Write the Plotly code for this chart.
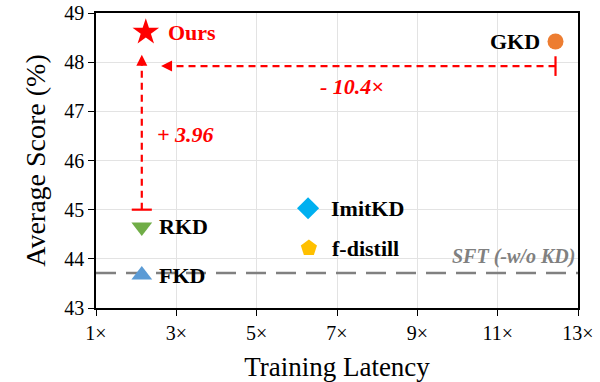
import plotly.graph_objects as go

# Method results: training latency (relative) vs. average score (%)
methods = ["Ours", "GKD", "RKD", "FKD", "ImitKD", "f-distill"]
latency = [2.24, 12.44, 2.14, 2.14, 6.28, 6.30]
score = [48.61, 48.42, 44.65, 43.67, 45.03, 44.22]
sft_score = 43.71
speedup_label = "- 10.4×"
gain_label = "+ 3.96"

x_ticks = [1, 3, 5, 7, 9, 11, 13]
x_tick_text = [f"{v}×" for v in x_ticks]
y_ticks = [43, 44, 45, 46, 47, 48, 49]

FONT = "Liberation Serif"
RED = "#FF0000"

styles = {
    "Ours": dict(symbol="star", color=RED, size=20, tcolor=RED, side="right", shift=20),
    "GKD": dict(symbol="circle", color="#ED7D31", size=16, tcolor="black", side="left", shift=-14),
    "RKD": dict(symbol="triangle-down", color="#70AD47", size=18, tcolor="black", side="right", shift=15),
    "FKD": dict(symbol="triangle-up", color="#5B9BD5", size=18, tcolor="black", side="right", shift=15),
    "ImitKD": dict(symbol="diamond", color="#00B0F0", size=17, tcolor="black", side="right", shift=21),
    "f-distill": dict(symbol="pentagon", color="#FFC000", size=17, tcolor="black", side="right", shift=21),
}

fig = go.Figure()

# SFT baseline
fig.add_trace(go.Scatter(
    x=[x_ticks[0], x_ticks[-1]], y=[sft_score, sft_score], mode="lines",
    line=dict(color="#808080", width=2.5, dash="20px,10px"),
    hoverinfo="skip", showlegend=False, cliponaxis=False,
))

gkd_x = latency[1]
rkd_x = latency[2]

# Horizontal speed-up arrow: from GKD latency back to ours
h_y = 47.92
h_tip = 2.62
fig.add_trace(go.Scatter(
    x=[gkd_x, h_tip + 0.12], y=[h_y, h_y], mode="lines",
    line=dict(color=RED, width=2.2, dash="7px,5px"),
    hoverinfo="skip", showlegend=False,
))
fig.add_trace(go.Scatter(
    x=[gkd_x, gkd_x], y=[h_y - 0.2, h_y + 0.2], mode="lines",
    line=dict(color=RED, width=2.2), hoverinfo="skip", showlegend=False,
))
fig.add_annotation(
    x=h_tip, y=h_y, ax=h_tip + 0.2, ay=h_y, xref="x", yref="y", axref="x", ayref="y",
    text="", showarrow=True, arrowhead=2, arrowsize=1.1, arrowwidth=2, arrowcolor=RED,
)

# Vertical gain arrow: from RKD score up to ours
v_x = rkd_x
v_base = 45.0
v_tip = 48.15
fig.add_trace(go.Scatter(
    x=[v_x, v_x], y=[v_base, v_tip - 0.12], mode="lines",
    line=dict(color=RED, width=2.2, dash="7px,5px"),
    hoverinfo="skip", showlegend=False,
))
fig.add_trace(go.Scatter(
    x=[v_x - 0.25, v_x + 0.25], y=[v_base, v_base], mode="lines",
    line=dict(color=RED, width=2.2), hoverinfo="skip", showlegend=False,
))
fig.add_annotation(
    x=v_x, y=v_tip, ax=v_x, ay=v_tip - 0.2, xref="x", yref="y", axref="x", ayref="y",
    text="", showarrow=True, arrowhead=2, arrowsize=1.1, arrowwidth=2, arrowcolor=RED,
)

# Method markers and labels
for name, x, y in zip(methods, latency, score):
    s = styles[name]
    fig.add_trace(go.Scatter(
        x=[x], y=[y], mode="markers",
        marker=dict(symbol=s["symbol"], color=s["color"], size=s["size"], line=dict(width=0)),
        name=name, showlegend=False,
    ))
    fig.add_annotation(
        x=x, y=y, text=f"<b>{name}</b>", showarrow=False,
        xanchor="left" if s["side"] == "right" else "right", yanchor="middle",
        xshift=s["shift"], font=dict(family=FONT, size=22, color=s["tcolor"]),
    )

fig.add_annotation(
    x=7.37, y=47.5, text=f"<b><i>{speedup_label}</i></b>", showarrow=False,
    font=dict(family=FONT, size=22, color=RED),
)
fig.add_annotation(
    x=3.24, y=46.52, text=f"<b><i>{gain_label}</i></b>", showarrow=False,
    font=dict(family=FONT, size=22, color=RED),
)
fig.add_annotation(
    x=12.97, y=44.04, text="<b><i>SFT (-w/o KD)</i></b>", showarrow=False,
    xanchor="right", font=dict(family=FONT, size=20, color="#808080"),
)

axis_common = dict(
    showline=True, linecolor="black", linewidth=1.5, mirror=True,
    showgrid=True, gridcolor="#E3E3E3", gridwidth=1,
    ticks="outside", ticklen=6, tickcolor="black", tickwidth=1.2,
    zeroline=False, tickfont=dict(family=FONT, size=20, color="black"),
    automargin=False,
)

fig.update_layout(
    width=600, height=382,
    margin=dict(l=96, r=22, t=13, b=74),
    paper_bgcolor="white", plot_bgcolor="white",
    font=dict(family=FONT),
    xaxis=dict(
        range=[1, 13], tickvals=x_ticks, ticktext=x_tick_text,
        title=dict(text="Training Latency", font=dict(family=FONT, size=27, color="black"), standoff=16),
        **axis_common,
    ),
    yaxis=dict(
        range=[43, 49], tickvals=y_ticks,
        title=dict(text="Average Score (%)", font=dict(family=FONT, size=28, color="black"), standoff=10),
        **axis_common,
    ),
)

fig.write_html("out.html")
